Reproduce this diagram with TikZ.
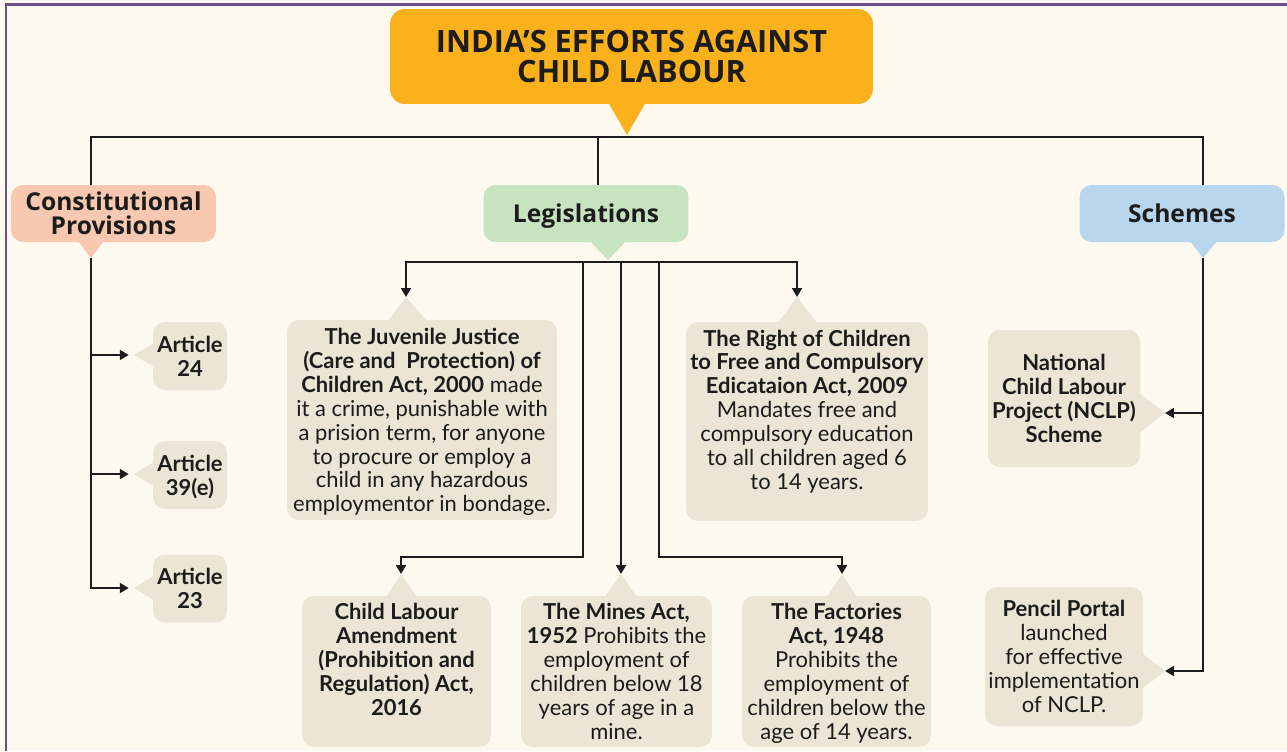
\documentclass[tikz,border=0pt]{standalone}
\usepackage{fontspec}
\setmainfont{Lato}
\newfontfamily\headfont{Open Sans}
\usepackage{xcolor}
\usetikzlibrary{arrows.meta}
\definecolor{paper}{HTML}{FDF9EE}
\definecolor{frame}{HTML}{6A4F8C}
\definecolor{ink}{HTML}{1C1C1C}
\definecolor{titlefill}{HTML}{FBB11B}
\definecolor{cpfill}{HTML}{F8C9B0}
\definecolor{legfill}{HTML}{C7E3BF}
\definecolor{schfill}{HTML}{B9D6EF}
\definecolor{cardfill}{HTML}{ECE4D4}

\begin{document}
\begin{tikzpicture}[x=0.02cm,y=-0.02cm,
    line/.style={draw=ink,line width=1.4pt},
    >={Triangle[length=5pt,width=5.5pt]},
    card/.style={fill=cardfill,rounded corners=0.24cm,align=center,text=ink,inner sep=2pt,text depth=-4pt,
        font=\fontsize{12.5}{13.6}\selectfont},
    head/.style={rounded corners=0.24cm,align=center,text=ink,minimum width=4.1cm,minimum height=1.14cm,text depth=-3pt,
        font=\headfont\bfseries\fontsize{14}{13.6}\selectfont}]
    \useasboundingbox (0,0) rectangle (1287,751);
    \fill [paper] (0,0) rectangle (1287,751);
    \draw [frame, line width=0.06cm] (6,751) -- (6,4) -- (1287,4);

    \node (title) [fill=titlefill, rounded corners=0.3cm, align=center, text=ink, minimum width=9.66cm, minimum height=1.9cm,
        font=\headfont\bfseries\fontsize{17.5}{17.6}\selectfont] at (631.5,56.5) {INDIA’S EFFORTS AGAINST\\CHILD LABOUR};
    \coordinate (title-tip) at (627,135);
    \fill [titlefill] (608,102) -- (title-tip) -- (646,102) -- cycle;

    \node (cp) [head, fill=cpfill] at (113.5,213.5) {Constitutional\\Provisions};
    \node (leg) [head, fill=legfill] at (586,213.5) {Legislations};
    \node (sch) [head, fill=schfill] at (1182,213.5) {Schemes};
    \coordinate (cp-tip) at (91,258);
    \coordinate (leg-tip) at (608,260);
    \coordinate (sch-tip) at (1203,258);
    \fill [cpfill] (78,241) -- (cp-tip) -- (104,241) -- cycle;
    \fill [legfill] (590,241) -- (leg-tip) -- (626,241) -- cycle;
    \fill [schfill] (1190,241) -- (sch-tip) -- (1217,241) -- cycle;

    \coordinate (hub) at (598,137);
    \draw [line] (cp-tip |- cp.north) |- (sch-tip |- hub) -- (sch-tip |- sch.north);
    \draw [line] (hub) -- (hub |- leg.north);

    \node (a24) [card, font=\bfseries\fontsize{12.5}{13.6}\selectfont, minimum width=1.48cm, minimum height=1.36cm] at (190,356) {Article\\24};
    \node (a39) [card, font=\bfseries\fontsize{12.5}{13.6}\selectfont, minimum width=1.48cm, minimum height=1.36cm] at (190,475) {Article\\39(e)};
    \node (a23) [card, font=\bfseries\fontsize{12.5}{13.6}\selectfont, minimum width=1.48cm, minimum height=1.36cm] at (190,588.5) {Article\\23};
    \coordinate (a24-tip) at (134,355);
    \coordinate (a39-tip) at (134,474);
    \coordinate (a23-tip) at (134,588);
    \fill [cardfill] (154,343) -- (a24-tip) -- (154,367) -- cycle;
    \fill [cardfill] (154,462) -- (a39-tip) -- (154,486) -- cycle;
    \fill [cardfill] (154,576) -- (a23-tip) -- (154,600) -- cycle;
    \draw [line, ->, shorten >=3pt] (cp-tip) |- (a23-tip);
    \draw [line, ->, shorten >=3pt] (cp-tip |- a24-tip) -- (a24-tip);
    \draw [line, ->, shorten >=3pt] (cp-tip |- a39-tip) -- (a39-tip);

    \node (jj) [card, minimum width=5.4cm, minimum height=4cm] at (422,420) {\textbf{The Juvenile Justice}\\
        \textbf{(Care and\ \ Protection) of}\\
        \textbf{Children Act, 2000} made\\
        it a crime, punishable with\\
        a prision term, for anyone\\
        to procure or employ a\\
        child in any hazardous\\
        employmentor in bondage.};
    \node (rte) [card, minimum width=4.84cm, minimum height=3.98cm] at (807,421.5) {\textbf{The Right of Children}\\
        \textbf{to Free and Compulsory}\\
        \textbf{Edicataion Act, 2009}\\
        Mandates free and\\
        compulsory education\\
        to all children aged 6\\
        to 14 years.\\ \mbox{}};
    \node (cla) [card, font=\bfseries\fontsize{12.5}{13.6}\selectfont, minimum width=3.78cm, minimum height=3.02cm] at (396.5,671.5) {Child Labour\\
        Amendment\\
        (Prohibition and\\
        Regulation) Act,\\
        2016\\ \mbox{}};
    \node (mines) [card, minimum width=3.82cm, minimum height=3.02cm] at (616.5,671.5) {\textbf{The Mines Act,}\\
        \textbf{1952} Prohibits the\\
        employment of\\
        children below 18\\
        years of age in a\\
        mine.};
    \node (fa) [card, minimum width=3.78cm, minimum height=3.02cm] at (836.5,671.5) {\textbf{The Factories}\\
        \textbf{Act, 1948}\\
        Prohibits the\\
        employment of\\
        children below the\\
        age of 14 years.};
    \coordinate (jj-tip) at (406,297);
    \coordinate (rte-tip) at (797,297);
    \coordinate (cla-tip) at (401,574);
    \coordinate (mines-tip) at (621,574);
    \coordinate (fa-tip) at (842,574);
    \fill [cardfill] (388,321) -- (jj-tip) -- (427,321) -- cycle;
    \fill [cardfill] (778,323) -- (rte-tip) -- (817,323) -- cycle;
    \fill [cardfill] (386,597) -- (cla-tip) -- (417,597) -- cycle;
    \fill [cardfill] (605,597) -- (mines-tip) -- (637,597) -- cycle;
    \fill [cardfill] (827,597) -- (fa-tip) -- (857,597) -- cycle;

    \coordinate (leg-bus) at (608,262);
    \coordinate (cla-bend) at (583,557);
    \coordinate (fa-bend) at (659,557);
    \draw [line, ->] (leg-bus) -| (jj-tip);
    \draw [line, ->] (leg-bus) -| (rte-tip);
    \draw [line, ->] (cla-bend |- leg-bus) -- (cla-bend) -| (cla-tip);
    \draw [line, ->] (mines-tip |- leg-bus) -- (mines-tip);
    \draw [line, ->] (fa-bend |- leg-bus) -- (fa-bend) -| (fa-tip);

    \node (ncl) [card, font=\bfseries\fontsize{12.5}{13.6}\selectfont, minimum width=3.04cm, minimum height=2.74cm] at (1064,398.5) {National\\
        Child Labour\\
        Project (NCLP)\\
        Scheme};
    \node (pen) [card, minimum width=3.04cm, minimum height=2.78cm] at (1064,656.5) {\textbf{Pencil Portal}\\
        launched\\
        for effective\\
        implementation\\
        of NCLP.};
    \coordinate (ncl-tip) at (1165,413);
    \coordinate (pen-tip) at (1165,671);
    \fill [cardfill] (1139,393) -- (ncl-tip) -- (1139,433) -- cycle;
    \fill [cardfill] (1139,651) -- (pen-tip) -- (1139,691) -- cycle;
    \draw [line, ->] (sch-tip) |- (pen-tip);
    \draw [line, ->] (sch-tip |- ncl-tip) -- (ncl-tip);
\end{tikzpicture}
\end{document}
